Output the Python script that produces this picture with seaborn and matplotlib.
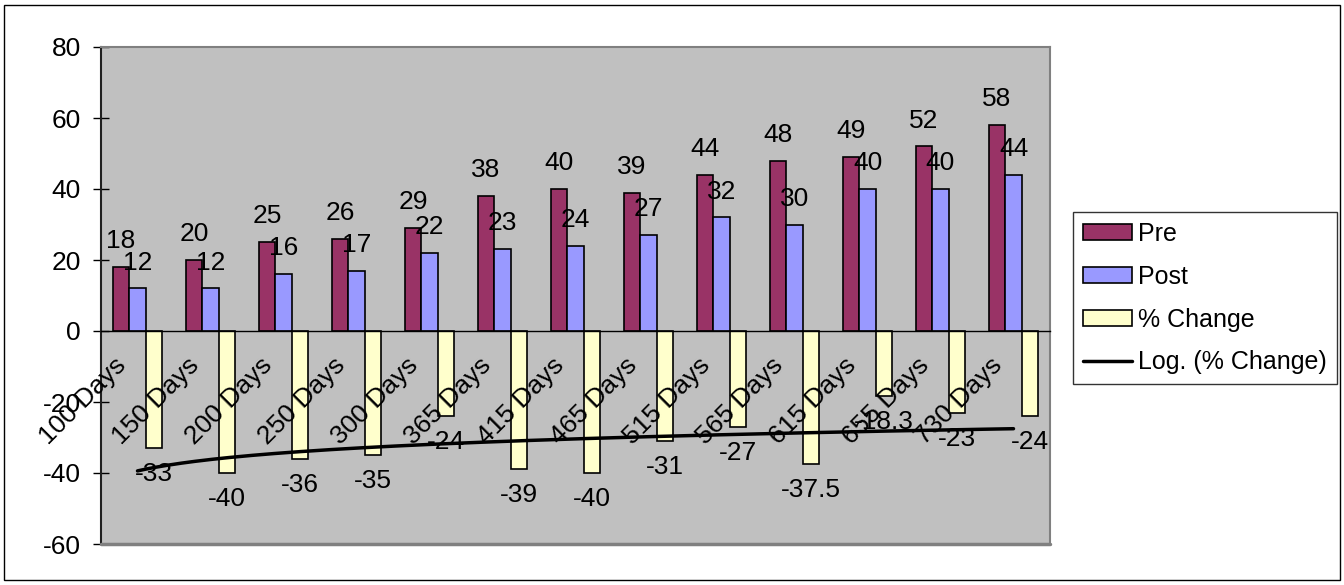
import numpy as np
import pandas as pd
import seaborn as sns
import matplotlib
matplotlib.use("Agg")
import matplotlib.pyplot as plt
from matplotlib.patches import Patch, Rectangle
from matplotlib.lines import Line2D
from matplotlib.transforms import ScaledTranslation

# data
periods = ['100 Days', '150 Days', '200 Days', '250 Days', '300 Days', '365 Days',
           '415 Days', '465 Days', '515 Days', '565 Days', '615 Days', '655 Days',
           '730 Days']
pre = [18, 20, 25, 26, 29, 38, 40, 39, 44, 48, 49, 52, 58]
post = [12, 12, 16, 17, 22, 23, 24, 27, 32, 30, 40, 40, 44]
pct_change = [-33, -40, -36, -35, -24, -39, -40, -31, -27, -37.5, -18.3, -23, -24]
series_names = ['Pre', 'Post', '% Change']
colors = {'Pre': '#993366', 'Post': '#9999FF', '% Change': '#FFFFCC'}

df = pd.DataFrame({
    'Period': periods * 3,
    'Value': pre + post + pct_change,
    'Series': ['Pre'] * len(periods) + ['Post'] * len(periods) + ['% Change'] * len(periods),
})

sns.set_style('white')
plt.rcParams['font.family'] = ['Liberation Sans', 'DejaVu Sans']
plt.rcParams['axes.unicode_minus'] = False
plt.rcParams['text.color'] = 'black'
plt.rcParams['xtick.color'] = 'black'
plt.rcParams['ytick.color'] = 'black'
FS = 19

fig = plt.figure(figsize=(13.44, 5.85), dpi=100)
ax = fig.add_axes([101 / 1344, 1 - 544 / 585, (1050 - 101) / 1344, (544 - 47) / 585])
ax.set_facecolor('#C0C0C0')

sns.barplot(data=df, x='Period', y='Value', hue='Series', hue_order=series_names,
            palette=colors, width=0.68, edgecolor='black', linewidth=1.2,
            saturation=1, ax=ax, legend=False, errorbar=None)

# data labels
for cont, name in zip(ax.containers, series_names):
    for bar in cont:
        h = bar.get_height()
        x = bar.get_x() + bar.get_width() / 2
        lbl = f'{h:g}'
        if h >= 0:
            ax.annotate(lbl, (x, h), xytext=(0, 10), textcoords='offset points',
                        ha='center', va='bottom', fontsize=FS, zorder=6)
        else:
            ax.annotate(lbl, (x, h), xytext=(0, -10), textcoords='offset points',
                        ha='center', va='top', fontsize=FS, zorder=6)

# logarithmic trendline on % change, x = 1..n like Excel
idx = np.arange(1, len(periods) + 1)
a, b = np.polyfit(np.log(idx), pct_change, 1)
xs = np.linspace(1, len(periods), 200)
ax.plot(xs - 1, a * np.log(xs) + b, color='black', linewidth=2.5, zorder=5)

ax.set_xlim(-0.5, len(periods) - 0.5)
ax.set_ylim(-60, 80)
ax.set_yticks(range(-60, 81, 20))
ax.set_xlabel('')
ax.set_ylabel('')

# x axis sits at zero
ax.spines['bottom'].set_position(('data', 0))
ax.spines['bottom'].set_color('black')
ax.spines['bottom'].set_linewidth(1)
ax.spines['left'].set_color('#202020')
ax.spines['left'].set_linewidth(1.5)
for s in ['top', 'right']:
    ax.spines[s].set_color('#808080')
    ax.spines[s].set_linewidth(1.5)
ax.axhline(-60, color='#808080', linewidth=2.5, zorder=4, clip_on=False)

ax.set_xticks(range(len(periods)))
ax.set_xticklabels(periods, rotation=45, ha='right', va='center', rotation_mode='anchor',
                   fontsize=FS)
ax.set_xticks(np.arange(0.5, len(periods) - 0.5, 1), minor=True)
ax.tick_params(axis='x', which='major', length=0, pad=0)
ax.tick_params(axis='x', which='minor', length=11, direction='inout', color='#404040',
               width=1)
ax.tick_params(axis='y', length=11, direction='inout', color='black', width=1,
               labelsize=FS, pad=9, left=True)
shift = ScaledTranslation(-0.15, -0.31, fig.dpi_scale_trans)
for t in ax.get_xticklabels():
    t.set_transform(t.get_transform() + shift)
    t.set_zorder(7)
ax.xaxis.set_zorder(7)

handles = [Patch(facecolor=colors[n], edgecolor='black', linewidth=1.2) for n in series_names]
handles.append(Line2D([0], [0], color='black', linewidth=2.5))
labels = series_names + ['Log. (% Change)']
leg = fig.legend(handles, labels, loc='upper left', bbox_to_anchor=(1073 / 1344, 1 - 212 / 585),
                 frameon=True, fancybox=False, edgecolor='black', fontsize=18,
                 handlelength=1.95, handleheight=0.6, handletextpad=0.25,
                 labelspacing=0.75, borderpad=0.4, borderaxespad=0)
leg.get_frame().set_linewidth(1)

# outer chart border
fig.patches.append(Rectangle((4 / 1344, 5 / 585), 1336 / 1344, 575 / 585,
                             transform=fig.transFigure, fill=False,
                             edgecolor='black', linewidth=1))

fig.savefig('out.png', dpi=100)
